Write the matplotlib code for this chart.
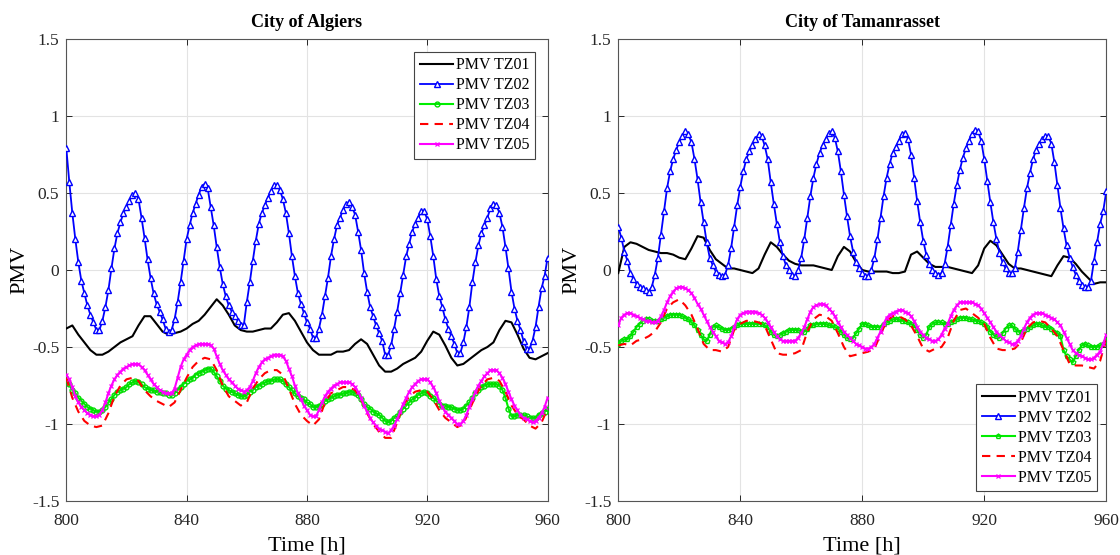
import matplotlib
matplotlib.use("Agg")
import matplotlib.pyplot as plt
import numpy as np

plt.rcParams['font.family'] = ['Liberation Serif', 'DejaVu Serif']

# ---------------- data ----------------
hours = list(range(800, 961))          # hourly
hours2 = list(range(800, 961, 2))      # every 2 h (unmarked lines)

x_ticks = [800, 840, 880, 920, 960]
y_ticks = [-1.5, -1, -0.5, 0, 0.5, 1, 1.5]
y_tick_labels = ['-1.5', '-1', '-0.5', '0', '0.5', '1', '1.5']
series_labels = ['PMV TZ01', 'PMV TZ02', 'PMV TZ03', 'PMV TZ04', 'PMV TZ05']
titles = ['City of Algiers', 'City of Tamanrasset']

# ---- City of Algiers ----
alg_tz01 = [-0.38, -0.36, -0.42, -0.47, -0.52, -0.55, -0.55, -0.53, -0.50, -0.47,
            -0.45, -0.43, -0.36, -0.30, -0.30, -0.35, -0.40, -0.42, -0.41, -0.40,
            -0.38, -0.35, -0.33, -0.29, -0.24, -0.19, -0.23, -0.29, -0.36, -0.39,
            -0.40, -0.40, -0.39, -0.38, -0.38, -0.34, -0.29, -0.28, -0.33, -0.40,
            -0.47, -0.52, -0.55, -0.55, -0.55, -0.53, -0.53, -0.52, -0.48, -0.45,
            -0.48, -0.55, -0.62, -0.66, -0.66, -0.64, -0.61, -0.59, -0.57, -0.53,
            -0.46, -0.40, -0.42, -0.49, -0.57, -0.62, -0.61, -0.58, -0.55, -0.52,
            -0.50, -0.47, -0.39, -0.33, -0.34, -0.42, -0.51, -0.57, -0.58, -0.56,
            -0.54]

alg_tz02 = [0.79, 0.57, 0.37, 0.20, 0.05, -0.07, -0.15, -0.23, -0.29, -0.34,
            -0.39, -0.39, -0.33, -0.24, -0.13, 0.01, 0.14, 0.24, 0.31, 0.37,
            0.41, 0.45, 0.49, 0.50, 0.46, 0.34, 0.21, 0.07, -0.05, -0.15,
            -0.22, -0.27, -0.32, -0.38, -0.40, -0.39, -0.32, -0.21, -0.08, 0.06,
            0.20, 0.29, 0.37, 0.43, 0.49, 0.54, 0.56, 0.53, 0.41, 0.29,
            0.15, 0.02, -0.09, -0.17, -0.23, -0.27, -0.30, -0.33, -0.36, -0.36,
            -0.21, -0.08, 0.06, 0.19, 0.30, 0.37, 0.42, 0.47, 0.51, 0.55,
            0.55, 0.52, 0.46, 0.37, 0.24, 0.09, -0.04, -0.15, -0.22, -0.28,
            -0.34, -0.38, -0.44, -0.44, -0.38, -0.29, -0.17, -0.05, 0.09, 0.20,
            0.29, 0.34, 0.39, 0.43, 0.44, 0.41, 0.36, 0.25, 0.13, -0.02,
            -0.14, -0.24, -0.30, -0.36, -0.41, -0.46, -0.55, -0.55, -0.49, -0.38,
            -0.27, -0.15, -0.03, 0.09, 0.17, 0.25, 0.30, 0.34, 0.38, 0.38,
            0.33, 0.22, 0.09, -0.06, -0.17, -0.24, -0.32, -0.38, -0.43, -0.48,
            -0.54, -0.54, -0.47, -0.37, -0.24, -0.08, 0.05, 0.16, 0.24, 0.29,
            0.34, 0.40, 0.43, 0.42, 0.37, 0.28, 0.15, 0.01, -0.14, -0.25,
            -0.33, -0.39, -0.46, -0.51, -0.51, -0.46, -0.37, -0.24, -0.12, -0.04,
            0.08]

alg_tz03 = [-0.71, -0.74, -0.78, -0.80, -0.83, -0.85, -0.87, -0.89, -0.90, -0.91,
            -0.92, -0.92, -0.91, -0.89, -0.86, -0.84, -0.81, -0.79, -0.78, -0.77,
            -0.76, -0.74, -0.73, -0.72, -0.73, -0.74, -0.76, -0.77, -0.78, -0.78,
            -0.79, -0.79, -0.80, -0.80, -0.81, -0.81, -0.80, -0.78, -0.76, -0.74,
            -0.72, -0.71, -0.70, -0.68, -0.67, -0.66, -0.65, -0.64, -0.64, -0.66,
            -0.69, -0.72, -0.75, -0.77, -0.78, -0.79, -0.80, -0.81, -0.82, -0.82,
            -0.81, -0.79, -0.78, -0.76, -0.75, -0.74, -0.73, -0.72, -0.72, -0.71,
            -0.71, -0.71, -0.72, -0.74, -0.76, -0.78, -0.80, -0.82, -0.83, -0.84,
            -0.86, -0.87, -0.89, -0.89, -0.88, -0.87, -0.85, -0.84, -0.83, -0.82,
            -0.81, -0.81, -0.80, -0.80, -0.79, -0.79, -0.80, -0.81, -0.84, -0.87,
            -0.89, -0.90, -0.92, -0.93, -0.94, -0.96, -0.98, -0.99, -0.98, -0.96,
            -0.95, -0.92, -0.90, -0.88, -0.86, -0.84, -0.83, -0.81, -0.80, -0.79,
            -0.80, -0.82, -0.83, -0.85, -0.87, -0.88, -0.88, -0.89, -0.89, -0.90,
            -0.91, -0.91, -0.90, -0.88, -0.86, -0.83, -0.80, -0.78, -0.76, -0.75,
            -0.74, -0.74, -0.74, -0.74, -0.75, -0.78, -0.83, -0.90, -0.95, -0.95,
            -0.94, -0.94, -0.94, -0.95, -0.96, -0.96, -0.96, -0.94, -0.93, -0.92,
            -0.90]

alg_tz04 = [-0.70, -0.83, -0.92, -0.98, -1.01, -1.02, -1.01, -0.93, -0.82, -0.75,
            -0.71, -0.70, -0.72, -0.78, -0.82, -0.85, -0.87, -0.89, -0.86, -0.78,
            -0.70, -0.63, -0.59, -0.57, -0.58, -0.65, -0.75, -0.82, -0.85, -0.88,
            -0.86, -0.77, -0.71, -0.67, -0.65, -0.65, -0.68, -0.77, -0.87, -0.94,
            -0.98, -1.01, -0.97, -0.86, -0.80, -0.78, -0.76, -0.76, -0.78, -0.84,
            -0.93, -1.00, -1.05, -1.09, -1.09, -0.99, -0.88, -0.82, -0.79, -0.78,
            -0.79, -0.84, -0.91, -0.96, -0.99, -1.02, -1.00, -0.91, -0.82, -0.75,
            -0.71, -0.70, -0.72, -0.79, -0.88, -0.94, -0.97, -1.01, -1.03, -0.99,
            -0.90]

alg_tz05 = [-0.68, -0.71, -0.76, -0.82, -0.86, -0.89, -0.91, -0.93, -0.94, -0.95,
            -0.95, -0.94, -0.91, -0.86, -0.80, -0.75, -0.71, -0.68, -0.66, -0.64,
            -0.63, -0.62, -0.61, -0.61, -0.61, -0.63, -0.65, -0.68, -0.71, -0.74,
            -0.76, -0.78, -0.79, -0.80, -0.80, -0.80, -0.77, -0.70, -0.63, -0.58,
            -0.55, -0.52, -0.50, -0.49, -0.48, -0.48, -0.48, -0.48, -0.49, -0.51,
            -0.56, -0.61, -0.65, -0.68, -0.71, -0.73, -0.75, -0.77, -0.78, -0.79,
            -0.78, -0.76, -0.72, -0.67, -0.63, -0.60, -0.58, -0.57, -0.56, -0.55,
            -0.55, -0.55, -0.56, -0.59, -0.64, -0.69, -0.75, -0.80, -0.84, -0.88,
            -0.91, -0.94, -0.95, -0.95, -0.91, -0.86, -0.82, -0.79, -0.77, -0.75,
            -0.74, -0.73, -0.73, -0.73, -0.73, -0.74, -0.76, -0.79, -0.83, -0.88,
            -0.92, -0.96, -0.99, -1.01, -1.03, -1.04, -1.05, -1.06, -1.04, -1.01,
            -0.97, -0.92, -0.87, -0.83, -0.79, -0.76, -0.74, -0.72, -0.71, -0.71,
            -0.71, -0.73, -0.76, -0.80, -0.85, -0.89, -0.92, -0.94, -0.96, -0.98,
            -1.00, -1.00, -0.98, -0.94, -0.89, -0.84, -0.79, -0.75, -0.72, -0.69,
            -0.67, -0.65, -0.65, -0.65, -0.67, -0.70, -0.74, -0.79, -0.84, -0.88,
            -0.91, -0.94, -0.96, -0.97, -0.98, -0.99, -0.98, -0.96, -0.93, -0.89,
            -0.83]

# ---- City of Tamanrasset ----
tam_tz01 = [-0.02, 0.15, 0.18, 0.17, 0.15, 0.13, 0.12, 0.11, 0.11, 0.10,
            0.08, 0.07, 0.14, 0.22, 0.21, 0.13, 0.07, 0.04, 0.01, 0.01,
            0.00, -0.01, -0.02, 0.01, 0.10, 0.18, 0.15, 0.10, 0.06, 0.04,
            0.03, 0.03, 0.03, 0.02, 0.01, 0.00, 0.09, 0.15, 0.12, 0.05,
            0.00, -0.01, -0.01, -0.01, -0.01, -0.02, -0.02, -0.01, 0.10, 0.12,
            0.08, 0.04, 0.02, 0.02, 0.02, 0.01, 0.00, -0.01, -0.02, 0.03,
            0.14, 0.19, 0.16, 0.10, 0.04, 0.01, 0.01, 0.00, -0.01, -0.02,
            -0.03, -0.04, 0.03, 0.09, 0.08, 0.04, -0.01, -0.05, -0.09, -0.08,
            -0.08]

tam_tz02 = [0.28, 0.21, 0.12, 0.06, -0.02, -0.06, -0.09, -0.11, -0.12, -0.13,
            -0.14, -0.11, -0.03, 0.08, 0.23, 0.38, 0.53, 0.64, 0.72, 0.78,
            0.83, 0.87, 0.90, 0.88, 0.83, 0.72, 0.59, 0.44, 0.31, 0.18,
            0.08, 0.03, -0.01, -0.03, -0.04, -0.03, 0.03, 0.14, 0.28, 0.42,
            0.54, 0.64, 0.72, 0.77, 0.81, 0.85, 0.88, 0.87, 0.81, 0.72,
            0.57, 0.43, 0.30, 0.18, 0.09, 0.03, 0.00, -0.03, -0.04, 0.00,
            0.08, 0.20, 0.34, 0.48, 0.60, 0.69, 0.76, 0.81, 0.85, 0.89,
            0.90, 0.86, 0.77, 0.64, 0.49, 0.35, 0.22, 0.12, 0.05, 0.01,
            -0.02, -0.04, -0.04, 0.00, 0.08, 0.20, 0.34, 0.48, 0.60, 0.69,
            0.76, 0.80, 0.84, 0.88, 0.89, 0.85, 0.75, 0.60, 0.45, 0.31,
            0.19, 0.10, 0.04, 0.00, -0.02, -0.03, -0.02, 0.04, 0.15, 0.29,
            0.43, 0.55, 0.65, 0.73, 0.79, 0.84, 0.88, 0.91, 0.90, 0.84,
            0.72, 0.58, 0.44, 0.31, 0.20, 0.11, 0.05, 0.01, -0.02, -0.02,
            0.01, 0.12, 0.26, 0.40, 0.53, 0.63, 0.72, 0.78, 0.82, 0.85,
            0.87, 0.87, 0.82, 0.70, 0.55, 0.40, 0.27, 0.16, 0.08, 0.02,
            -0.03, -0.07, -0.10, -0.11, -0.11, -0.07, 0.06, 0.18, 0.30, 0.38,
            0.51]

tam_tz03 = [-0.48, -0.46, -0.45, -0.45, -0.43, -0.40, -0.37, -0.35, -0.33, -0.32,
            -0.32, -0.33, -0.33, -0.33, -0.32, -0.31, -0.30, -0.29, -0.29, -0.29,
            -0.29, -0.30, -0.31, -0.32, -0.34, -0.36, -0.39, -0.42, -0.45, -0.46,
            -0.42, -0.37, -0.36, -0.37, -0.38, -0.39, -0.39, -0.38, -0.37, -0.36,
            -0.35, -0.35, -0.35, -0.35, -0.35, -0.35, -0.35, -0.35, -0.36, -0.37,
            -0.40, -0.42, -0.43, -0.42, -0.41, -0.40, -0.39, -0.39, -0.39, -0.39,
            -0.40, -0.40, -0.38, -0.36, -0.36, -0.35, -0.35, -0.35, -0.35, -0.36,
            -0.36, -0.37, -0.38, -0.40, -0.42, -0.44, -0.45, -0.44, -0.41, -0.38,
            -0.35, -0.35, -0.36, -0.37, -0.37, -0.37, -0.37, -0.35, -0.34, -0.33,
            -0.32, -0.32, -0.32, -0.33, -0.33, -0.34, -0.35, -0.36, -0.39, -0.42,
            -0.44, -0.42, -0.37, -0.35, -0.34, -0.34, -0.34, -0.35, -0.35, -0.34,
            -0.33, -0.32, -0.31, -0.31, -0.31, -0.32, -0.32, -0.33, -0.33, -0.34,
            -0.35, -0.37, -0.40, -0.42, -0.43, -0.44, -0.41, -0.38, -0.36, -0.36,
            -0.38, -0.40, -0.40, -0.39, -0.38, -0.37, -0.36, -0.35, -0.35, -0.36,
            -0.37, -0.37, -0.38, -0.40, -0.41, -0.43, -0.52, -0.56, -0.58, -0.60,
            -0.56, -0.52, -0.49, -0.48, -0.49, -0.50, -0.50, -0.50, -0.49, -0.48,
            -0.46]

tam_tz04 = [-0.49, -0.48, -0.49, -0.46, -0.45, -0.43, -0.40, -0.34, -0.25, -0.21,
            -0.19, -0.23, -0.29, -0.38, -0.48, -0.52, -0.52, -0.53, -0.50, -0.39,
            -0.35, -0.33, -0.33, -0.34, -0.36, -0.45, -0.54, -0.55, -0.55, -0.54,
            -0.52, -0.40, -0.32, -0.29, -0.30, -0.33, -0.41, -0.50, -0.56, -0.55,
            -0.54, -0.53, -0.51, -0.42, -0.33, -0.30, -0.30, -0.32, -0.36, -0.43,
            -0.51, -0.53, -0.51, -0.50, -0.44, -0.33, -0.26, -0.25, -0.28, -0.31,
            -0.35, -0.44, -0.51, -0.52, -0.52, -0.51, -0.47, -0.38, -0.34, -0.33,
            -0.34, -0.38, -0.43, -0.52, -0.61, -0.62, -0.62, -0.63, -0.64, -0.59,
            -0.45]

tam_tz05 = [-0.36, -0.31, -0.29, -0.28, -0.28, -0.29, -0.30, -0.31, -0.32, -0.33,
            -0.33, -0.34, -0.34, -0.33, -0.30, -0.26, -0.21, -0.17, -0.14, -0.12,
            -0.11, -0.11, -0.12, -0.13, -0.15, -0.18, -0.22, -0.25, -0.29, -0.33,
            -0.37, -0.40, -0.43, -0.46, -0.47, -0.48, -0.47, -0.43, -0.37, -0.32,
            -0.29, -0.28, -0.27, -0.27, -0.27, -0.27, -0.28, -0.29, -0.31, -0.34,
            -0.37, -0.40, -0.43, -0.45, -0.46, -0.46, -0.46, -0.46, -0.46, -0.44,
            -0.41, -0.37, -0.32, -0.27, -0.24, -0.23, -0.22, -0.22, -0.23, -0.25,
            -0.27, -0.30, -0.34, -0.37, -0.40, -0.42, -0.44, -0.46, -0.48, -0.49,
            -0.50, -0.51, -0.51, -0.50, -0.48, -0.44, -0.40, -0.35, -0.31, -0.29,
            -0.28, -0.27, -0.26, -0.26, -0.27, -0.28, -0.30, -0.33, -0.37, -0.40,
            -0.42, -0.44, -0.45, -0.46, -0.46, -0.45, -0.42, -0.38, -0.35, -0.30,
            -0.26, -0.23, -0.21, -0.21, -0.21, -0.21, -0.21, -0.22, -0.23, -0.25,
            -0.28, -0.31, -0.34, -0.37, -0.40, -0.42, -0.44, -0.46, -0.47, -0.48,
            -0.48, -0.46, -0.43, -0.38, -0.34, -0.31, -0.29, -0.28, -0.28, -0.28,
            -0.29, -0.30, -0.31, -0.32, -0.34, -0.36, -0.40, -0.44, -0.48, -0.52,
            -0.54, -0.55, -0.56, -0.57, -0.58, -0.58, -0.57, -0.55, -0.53, -0.48,
            -0.42]

# ---------------- drawing ----------------
fig = plt.figure(figsize=(11.2, 5.55), dpi=100)
ax1 = fig.add_axes([0.0592, 0.0973, 0.4297, 0.8324])
ax2 = fig.add_axes([0.552, 0.0973, 0.4357, 0.8324])

panels = [
    (ax1, alg_tz01, alg_tz02, alg_tz03, alg_tz04, alg_tz05, 'o', 'upper right', 0.8),
    (ax2, tam_tz01, tam_tz02, tam_tz03, tam_tz04, tam_tz05, 'p', 'lower right', 0.6),
]

for i, (ax, s1, s2, s3, s4, s5, m3, legloc, bap) in enumerate(panels):
    ax.plot(hours2, s1, color='black', lw=1.5, label=series_labels[0], zorder=3)
    ax.plot(hours, s2, color='#0000ff', lw=1.3, marker='^', ms=5,
            mfc='white', mec='#0000ff', mew=1.0, label=series_labels[1], zorder=4)
    ax.plot(hours, s3, color='#00ee00', lw=1.5, marker=m3, ms=3.5,
            mfc='none', mec='#00dd00', mew=1.0, label=series_labels[2], zorder=3)
    ax.plot(hours2, s4, color='#ff0000', lw=1.5, ls=(0, (4, 3)),
            label=series_labels[3], zorder=3)
    ax.plot(hours, s5, color='#ff00ff', lw=1.5, marker='x', ms=3.0,
            mew=0.9, label=series_labels[4], zorder=3)

    ax.set_xlim(800, 960)
    ax.set_ylim(-1.5, 1.5)
    ax.set_xticks(x_ticks)
    ax.set_xticklabels([str(v) for v in x_ticks])
    ax.set_yticks(y_ticks)
    ax.set_yticklabels(y_tick_labels)
    ax.grid(True, color='#e3e3e3', lw=0.8, zorder=0)
    ax.set_axisbelow(True)
    ax.tick_params(direction='in', length=4, width=0.7, top=True, right=True,
                   labelsize=12.5, colors='#262626')
    ax.tick_params(axis='x', pad=9)
    ax.tick_params(axis='y', pad=5)
    for sp in ax.spines.values():
        sp.set_color('#555555')
        sp.set_linewidth(0.8)
    ax.set_title(titles[i], fontsize=13, fontweight='bold', pad=9)
    ax.set_xlabel('Time [h]', fontsize=16, labelpad=5)
    ax.set_ylabel('PMV', fontsize=16, labelpad=2)
    leg = ax.legend(loc=legloc, fontsize=11.5, frameon=True, fancybox=False,
                    edgecolor='#444444', framealpha=1, handlelength=2.1,
                    handletextpad=0.15, labelspacing=0.25, borderpad=0.35,
                    borderaxespad=bap)
    leg.get_frame().set_linewidth(0.8)

fig.savefig('out.png', dpi=100)
